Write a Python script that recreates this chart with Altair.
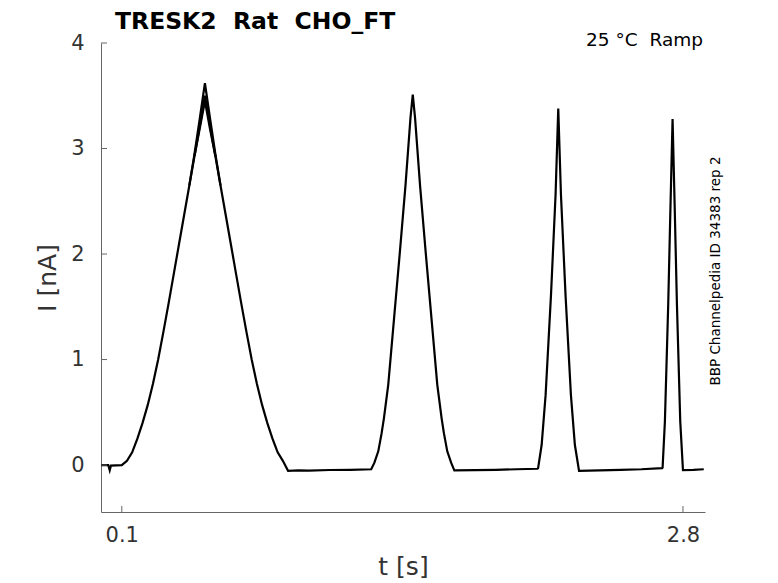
import altair as alt
import pandas as pd

# ---- data ----
t_main = [0.0, 0.035, 0.042, 0.048, 0.1, 0.125, 0.15, 0.175, 0.2, 0.225, 0.25, 0.275,
          0.3, 0.325, 0.35, 0.375, 0.4, 0.425, 0.45, 0.475, 0.5,
          0.525, 0.55, 0.575, 0.6, 0.625, 0.65, 0.675, 0.7, 0.725, 0.75, 0.775,
          0.8, 0.825, 0.85, 0.875, 0.9,
          0.95, 1.0, 1.1, 1.2, 1.3,
          1.315, 1.334, 1.35, 1.361, 1.382, 1.41, 1.438, 1.465, 1.489, 1.5,
          1.511, 1.535, 1.562, 1.59, 1.618, 1.639, 1.65, 1.666, 1.685, 1.7,
          1.8, 1.9, 2.0, 2.1,
          2.103, 2.12, 2.139, 2.165, 2.187, 2.2, 2.213, 2.235, 2.261, 2.28, 2.3,
          2.4, 2.5, 2.6, 2.7,
          2.702, 2.713, 2.729, 2.74, 2.75, 2.76, 2.771, 2.787, 2.8,
          2.85, 2.9]
i_main = [0.0, 0.0, -0.05, -0.005, 0.0, 0.04, 0.12, 0.25, 0.4, 0.57, 0.77, 1.0,
          1.26, 1.53, 1.81, 2.09, 2.37, 2.65, 2.93, 3.21, 3.5,
          3.21, 2.93, 2.65, 2.37, 2.09, 1.81, 1.53, 1.26, 1.0, 0.77, 0.57,
          0.4, 0.25, 0.12, 0.04, -0.055,
          -0.05, -0.052, -0.047, -0.045, -0.04,
          0.02, 0.13, 0.3, 0.44, 0.76, 1.39, 2.02, 2.65, 3.29, 3.51,
          3.29, 2.65, 2.02, 1.39, 0.76, 0.44, 0.3, 0.13, 0.02, -0.05,
          -0.048, -0.045, -0.04, -0.035,
          -0.03, 0.19, 0.66, 1.61, 2.56, 3.38, 2.56, 1.61, 0.66, 0.19, -0.055,
          -0.05, -0.045, -0.04, -0.03,
          -0.025, 0.41, 1.52, 2.46, 3.28, 2.46, 1.52, 0.41, -0.047,
          -0.045, -0.04]

# other sweeps, visible only around the first peak
t_sweep2 = [0.425, 0.45, 0.475, 0.5, 0.525, 0.55, 0.575]
i_sweep2 = [2.65, 2.95, 3.28, 3.62, 3.28, 2.95, 2.65]
t_sweep3 = [0.45, 0.475, 0.5, 0.525, 0.55]
i_sweep3 = [2.93, 3.19, 3.45, 3.18, 2.93]

y_ticks = [0, 1, 2, 3, 4]
x_ticks = [0.1, 2.8]

title_text = "TRESK2\u00a0 Rat\u00a0 CHO_FT"
cond_text = "25 \u00b0C\u00a0 Ramp"
side_text = "BBP Channelpedia ID 34383 rep 2"

FONT = "DejaVu Sans"
W, H = 604, 469

df = pd.concat([
    pd.DataFrame({"t": t_main, "I": i_main, "sweep": "1"}),
    pd.DataFrame({"t": t_sweep2, "I": i_sweep2, "sweep": "2"}),
    pd.DataFrame({"t": t_sweep3, "I": i_sweep3, "sweep": "3"}),
])

xscale = alt.Scale(domain=[0, 2.906], nice=False, zero=False)
yscale = alt.Scale(domain=[-0.445, 4], nice=False, zero=False)
xaxis = alt.Axis(title="t [s]", values=x_ticks, format=".1f", ticks=False,
                 grid=False, labelPadding=12, titlePadding=9)
yaxis = alt.Axis(title="I [nA]", values=y_ticks, format="d", ticks=False,
                 grid=False, labelPadding=17, titlePadding=10)

lines = alt.Chart(df).mark_line(color="black", strokeWidth=2.2).encode(
    x=alt.X("t:Q", scale=xscale, axis=xaxis),
    y=alt.Y("I:Q", scale=yscale, axis=yaxis),
    detail="sweep:N",
)

ytick = alt.Chart(pd.DataFrame({"I": y_ticks})).mark_rule(color="#666", strokeWidth=1).encode(
    y=alt.Y("I:Q", scale=yscale, axis=yaxis),
    x=alt.value(0), x2=alt.value(6),
)
xtick = alt.Chart(pd.DataFrame({"t": x_ticks})).mark_rule(color="#666", strokeWidth=1).encode(
    x=alt.X("t:Q", scale=xscale, axis=xaxis),
    y=alt.value(H), y2=alt.value(H - 6),
)

title = alt.Chart(pd.DataFrame({"s": [title_text]})).mark_text(
    font=FONT, fontSize=23.5, fontWeight="bold", align="left", baseline="middle", color="black"
).encode(text="s:N", x=alt.value(14), y=alt.value(-21))

cond = alt.Chart(pd.DataFrame({"s": [cond_text]})).mark_text(
    font=FONT, fontSize=18.5, align="right", baseline="middle", color="black"
).encode(text="s:N", x=alt.value(602), y=alt.value(-3))

side = alt.Chart(pd.DataFrame({"s": [side_text]})).mark_text(
    font=FONT, fontSize=13.5, align="center", baseline="middle", angle=270, color="black"
).encode(text="s:N", x=alt.value(615), y=alt.value(228))

chart = alt.layer(lines, ytick, xtick, title, cond, side).properties(
    width=W, height=H,
    autosize=alt.AutoSizeParams(type="none"),
    padding={"left": 93, "top": 35, "right": 60, "bottom": 74},
).configure_view(stroke=None).configure_axis(
    domainColor="#666", domainWidth=1,
    labelFont=FONT, labelFontSize=21, labelColor="#333333",
    titleFont=FONT, titleFontSize=25, titleColor="#333333", titleFontWeight="normal",
)

chart.save("out.html", embed_options={"renderer": "svg", "actions": False})
